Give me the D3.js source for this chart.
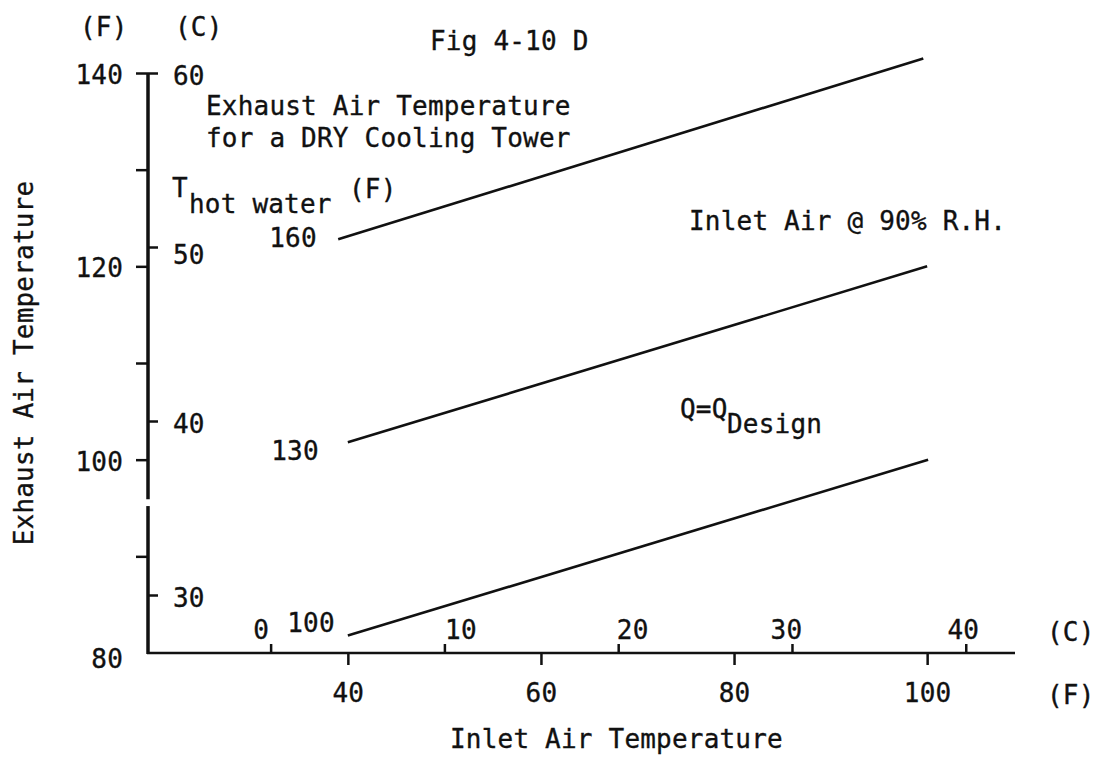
<!DOCTYPE html>
<html>
<head>
<meta charset="utf-8">
<script src="https://cdn.jsdelivr.net/npm/d3@7"></script>
<style>
  body { margin: 0; background: #fff; }
  svg { display: block; }
  text { font-family: "DejaVu Sans Mono", monospace; font-size: 26px; fill: #111; stroke: #111; stroke-width: 0.35px; letter-spacing: 0.2px; }
  .axis line { stroke: #111; stroke-width: 2.5; }
  .axis path.domain { display: none; }
  .chart-line { fill: none; stroke: #111; stroke-width: 2.6; }
</style>
</head>
<body>
<svg id="chart"></svg>
<script>
// curves of constant hot water temperature (F)
const hotWaterF = [160, 130, 100];
const inletStartF = [39, 40, 40];
const inletEndF = [99.6, 100, 100.1];
const exhaustStartF = [122.8, 101.8, 81.8];
const exhaustEndF = [141.5, 120.0, 100.0];

// tick values
const inletTicksF = [40, 60, 80, 100];
const inletTicksC = [0, 10, 20, 30, 40];
const exhaustTicksF = [80, 90, 100, 110, 120, 130, 140];
const exhaustTicksC = [30, 40, 50, 60];

// axis extents (F)
const inletExtentF = [19.3, 109.1];
const exhaustExtentF = [80, 140];
const axisBreakF = [95.9, 95.2];

const toC = f => (f - 32) * 5 / 9;

let svg = d3.select("#chart").attr("width", 1097).attr("height", 758);

// scales
let x = d3.scaleLinear().domain(inletExtentF).range([148, 1015]);
let xC = d3.scaleLinear().domain(inletExtentF.map(toC)).range([148, 1015]);
let y = d3.scaleLinear().domain(exhaustExtentF).range([653, 73]);
let yC = d3.scaleLinear().domain(exhaustExtentF.map(toC)).range([653, 73]);

// y axis (F) on the left
let yAxisG = svg.append("g").attr("class", "axis")
    .attr("transform", "translate(148,0)")
    .call(d3.axisLeft(y).tickValues(exhaustTicksF).tickSize(12).tickPadding(13)
        .tickFormat(d => d % 20 === 0 ? d : ""));
yAxisG.selectAll(".tick").filter(d => d === 80).select("line").remove();
yAxisG.selectAll("text").attr("dy", d => d === 80 ? "0.55em" : "0.4em");

// y axis (C) ticks to the right
let yCAxisG = svg.append("g").attr("class", "axis")
    .attr("transform", "translate(148,0)")
    .call(d3.axisRight(yC).tickValues(exhaustTicksC).tickSize(10).tickPadding(15));
yCAxisG.selectAll("text").attr("dy", d => d === 50 ? "0.65em" : "0.45em");

// x axis (F) below
let xAxisG = svg.append("g").attr("class", "axis")
    .attr("transform", "translate(0,653)")
    .call(d3.axisBottom(x).tickValues(inletTicksF).tickSize(12));
xAxisG.selectAll("text").attr("y", 49).attr("dy", 0);

// x axis (C) ticks above
const cLabelDx = [-10, 16, 14, -6, -3];
let xCAxisG = svg.append("g").attr("class", "axis")
    .attr("transform", "translate(0,653)")
    .call(d3.axisTop(xC).tickValues(inletTicksC).tickSize(9));
xCAxisG.selectAll("text").attr("y", -14).attr("dy", 0)
    .attr("dx", (d, i) => cLabelDx[i]);

// axis lines (y axis has a small break)
svg.append("line")
    .attr("x1", 148).attr("x2", 148).attr("y1", y(140)).attr("y2", y(axisBreakF[0]))
    .attr("stroke", "#111").attr("stroke-width", 3.5);
svg.append("line")
    .attr("x1", 148).attr("x2", 148).attr("y1", y(axisBreakF[1])).attr("y2", y(80) + 1)
    .attr("stroke", "#111").attr("stroke-width", 3.5);
svg.append("line")
    .attr("x1", 147).attr("x2", x(inletExtentF[1])).attr("y1", y(80)).attr("y2", y(80))
    .attr("stroke", "#111").attr("stroke-width", 2.5);

// lines
let line = d3.line().x(d => x(d[0])).y(d => y(d[1]));
hotWaterF.forEach((t, i) => {
    svg.append("path")
        .datum([[inletStartF[i], exhaustStartF[i]], [inletEndF[i], exhaustEndF[i]]])
        .attr("class", "chart-line")
        .attr("d", line);
});

// curve labels
const curveLabelPos = [[293, 247], [295, 460], [311, 632]];
hotWaterF.forEach((t, i) => {
    svg.append("text")
        .attr("x", curveLabelPos[i][0]).attr("y", curveLabelPos[i][1])
        .attr("text-anchor", "middle")
        .text(t);
});

// unit labels
svg.append("text").attr("x", 80).attr("y", 36).text("(F)");
svg.append("text").attr("x", 175).attr("y", 36).text("(C)");
svg.append("text").attr("x", 1047).attr("y", 641).text("(C)");
svg.append("text").attr("x", 1047).attr("y", 704).text("(F)");

// titles and notes
svg.append("text").attr("x", 430).attr("y", 50).text("Fig 4-10 D");
svg.append("text").attr("x", 206).attr("y", 115).text("Exhaust Air Temperature");
svg.append("text").attr("x", 206).attr("y", 147).text("for a DRY Cooling Tower");
svg.append("text").attr("x", 172).attr("y", 197).text("T");
svg.append("text").attr("x", 189).attr("y", 213).text("hot water");
svg.append("text").attr("x", 349).attr("y", 198).text("(F)");
svg.append("text").attr("x", 689).attr("y", 230).text("Inlet Air @ 90% R.H.");
svg.append("text").attr("x", 680).attr("y", 418).text("Q=Q");
svg.append("text").attr("x", 727).attr("y", 433).text("Design");

// axis titles
svg.append("text").attr("x", 450).attr("y", 748).text("Inlet Air Temperature");
svg.append("text")
    .attr("transform", "translate(33,363) rotate(-90)")
    .attr("text-anchor", "middle")
    .text("Exhaust Air Temperature");
</script>
</body>
</html>
